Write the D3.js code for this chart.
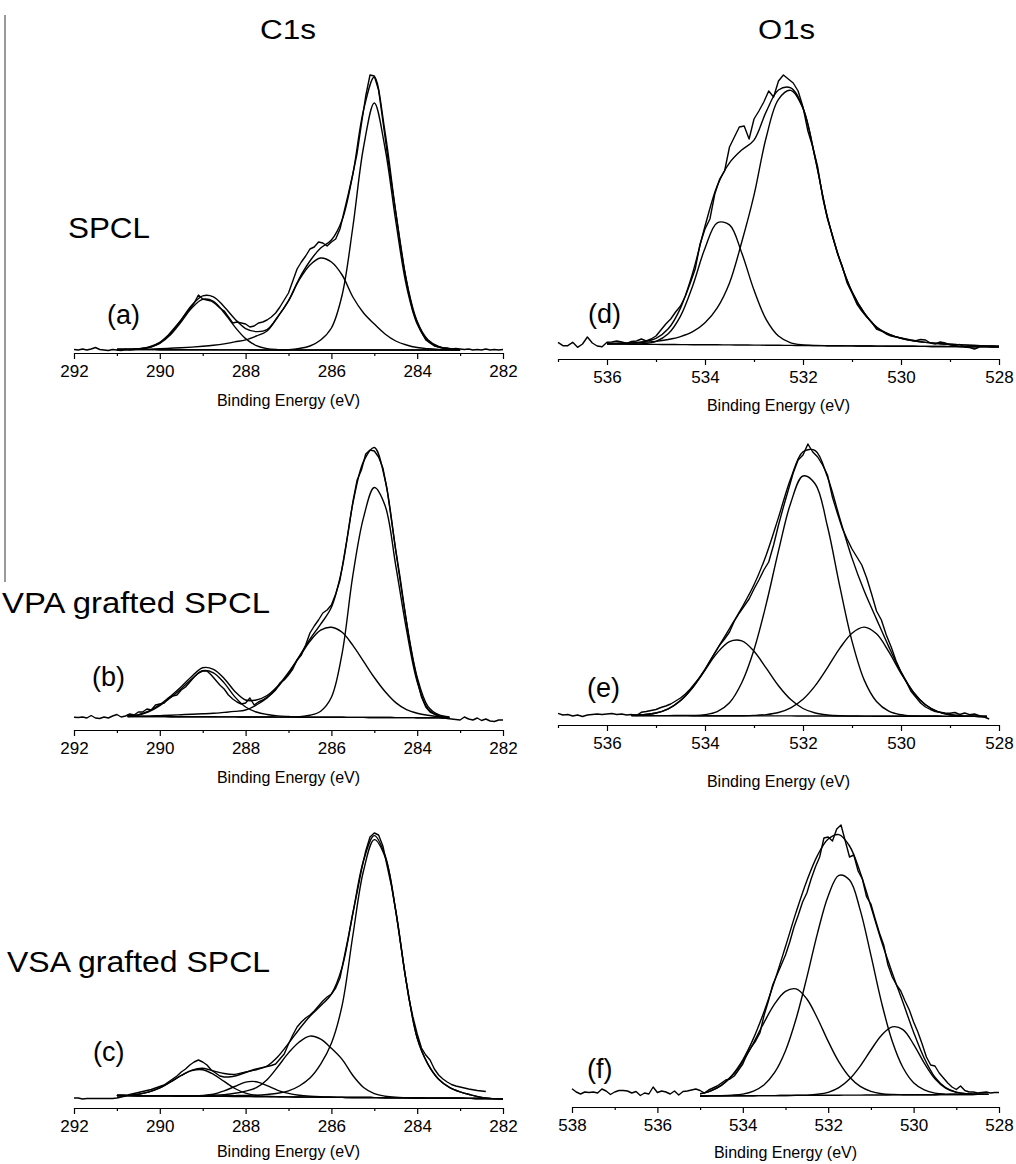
<!DOCTYPE html>
<html>
<head>
<meta charset="utf-8">
<script src="https://cdn.jsdelivr.net/npm/d3@7"></script>
<style>
  body { margin: 0; background: #fff; }
  svg { display: block; font-family: 'Liberation Sans', Arial, sans-serif; }
  .curve { fill: none; stroke: #000; stroke-width: 1.4; stroke-linejoin: round; }
  .axis path, .axis line { stroke: #000; stroke-width: 1.2; }
  .axis text { font-size: 17px; fill: #000; font-family: 'Liberation Sans', Arial, sans-serif; }
</style>
</head>
<body>
<svg id="chart" width="1016" height="1164"></svg>
<script>
// tick values (binding energy, eV)
const ticksC1s = [292, 291, 290, 289, 288, 287, 286, 285, 284, 283, 282];
const ticksO1s = [537, 536, 535, 534, 533, 532, 531, 530, 529, 528];
const ticksO1sF = [538, 537, 536, 535, 534, 533, 532, 531, 530, 529, 528];

// first energy of each measured spectrum and of each fit grid (a..f)
const rawStart = [292, 292, 292, 537, 537, 538];
const rawStep = 0.1;
const fitStart = [291, 290.75, 291, 536, 535.5, 535];
const fitStep = 0.25;

// measured spectra (a.u.)
const rawA = [3.5, 3, 4, 3, 4, 5.5, 3.5, 3, 2.5, 3.5,
  3, 2.5, 3.5, 3, 3.5, 4, 4.5, 5, 6, 8,
  10, 14, 18, 23, 28, 33, 39, 44, 50, 58,
  54, 53, 52, 49, 45, 42, 36, 30, 31, 30,
  29, 26, 27, 30, 31, 33, 36, 40, 46, 53,
  60, 72, 84, 91, 97, 104, 106, 111, 110, 107,
  111, 114, 124, 142, 160, 179, 200, 229, 257, 278,
  277, 263, 232, 200, 170, 141, 112, 84, 61, 42,
  31, 21, 13, 10, 7, 6, 5, 5, 4, 4.5,
  4, 3.5, 4, 3, 3.5, 3, 4, 3, 3.5, 3, 3.5];
const rawB = [12.7, 12.5, 13, 12, 14.5, 12, 11.5, 13, 12, 14,
  15.5, 13, 14, 16, 15, 18, 18, 21, 20, 25,
  26, 27, 32, 34, 35, 40, 43, 48, 53, 57,
  59, 59, 55, 50, 45, 41, 35, 31, 28, 26,
  27, 32, 25, 28, 30, 33, 36, 40, 47, 50,
  55, 61, 70, 75, 85, 97, 104, 110, 117, 120,
  125, 136, 150, 175, 200, 228, 250, 260, 276, 280,
  279, 273, 262, 240, 210, 180, 153, 123, 94, 70,
  50, 33, 23, 18, 16, 14, 12.5, 11.5, 11, 10.5,
  10, 13, 11, 10, 12, 9.5, 11, 9, 8.5, 10, 10];
const rawC = [10, 10, 9, 9.5, 9.5, 9.5, 9.5, 9.5, 9.5, 9.5,
  10, 11, 12, 13.5, 14.5, 15.5, 16.5, 17.5, 18.5, 20,
  21.5, 23, 26, 29, 32, 36, 39, 43, 46, 48,
  46, 43, 38, 35, 32, 31, 31, 31.5, 32.5, 34,
  35.5, 37, 38.5, 39.5, 40.5, 41.5, 42.5, 44, 49, 54,
  64, 73, 81, 86, 90, 93, 97, 102, 107, 111,
  114, 120, 130, 151, 172, 195, 216, 238, 257, 271,
  275, 273, 262, 242, 222, 197, 168, 138, 111, 91,
  74, 60, 53, 48, 39, 33, 29, 26, 23.5, 22,
  21, 20, 19, 18.3, 17.5, 17, 16.5];
const rawD = [16.7, 13.3, 13.3, 16.7, 11.7, 15, 22, 16, 13, 12.3,
  16.7, 17, 18, 17, 15.7, 17.5, 18, 20, 18, 20,
  23, 29, 35, 40, 47, 53, 63, 76, 90, 115,
  130, 140, 165, 180, 188, 212, 222, 232, 233, 220,
  240, 248, 257, 268, 262, 278, 284, 280, 276, 268,
  252, 228, 212, 192, 162, 140, 124, 106, 93, 76,
  66, 55, 48, 42, 37, 30, 28, 25, 23, 22,
  21, 20, 19, 18.3, 19.5, 19, 16, 15, 17, 16,
  14, 13.5, 14.5, 12, 11.5, 10, 12];
const rawE = [11.7, 10, 10.5, 9, 10, 8.5, 10, 10.5, 11, 10.5,
  11, 11.5, 10.5, 11, 10, 10.5, 9.5, 12.7, 13.5, 14.5,
  15.5, 17.5, 19, 21, 24, 27, 31, 36, 42, 48,
  55, 64, 72, 80, 86, 93, 104, 112, 119, 126,
  136, 145, 155, 163, 180, 200, 218, 235, 252, 265,
  270, 281, 273, 268, 260, 250, 228, 212, 197, 186,
  176, 168, 160, 147, 131, 114, 105, 90, 78, 64,
  53, 44, 34, 28, 22, 18, 15.5, 13.5, 12.7, 12,
  11.7, 12.5, 10.5, 12, 10.3, 11, 9.3, 8, 6];
const rawF = [18.3, 15, 13, 15, 14.5, 15, 14, 18, 16, 12.5,
  15, 16.5, 16.5, 16, 14, 15.5, 11.5, 14, 13, 20,
  14.5, 16, 15, 13, 16, 12, 15.5, 16, 17, 18,
  16.5, 14, 17, 19, 21, 24, 27, 28, 31, 37,
  43, 53, 60, 66, 74, 92, 106, 122, 132, 142,
  152, 165, 180, 192, 205, 214, 228, 240, 250, 269,
  270, 266, 278, 282, 266, 250, 252, 236, 228, 210,
  203, 188, 174, 162, 142, 130, 122, 116, 106, 97,
  85, 75, 63, 50, 42, 41, 34, 29, 24, 20,
  17.5, 21, 16.5, 15, 15, 14, 14.5, 15, 14, 14.5, 14.5];

// backgrounds on the fit grid
const bgA = [3.5, 3.5, 3.4, 3.4, 3.3, 3.3, 3.3, 3.2, 3.2, 3.2, 3.1, 3.1, 3.1,
  3, 3, 3, 3, 3, 3, 3, 3, 3, 3, 3, 3, 3, 3, 3, 3, 3, 3, 3, 3];
const bgB = [13.5, 13.5, 13.4, 13.4, 13.3, 13.3, 13.3, 13.2, 13.2, 13.1,
  13.1, 13, 13, 13, 12.9, 12.9, 12.8, 12.8, 12.8, 12.7,
  12.7, 12.6, 12.6, 12.5, 12.5, 12.4, 12.4, 12.3, 12.2, 12.1, 12];
const bgC = [12.5, 12.4, 12.3, 12.2, 12.1, 12.1, 12, 11.9, 11.8, 11.7,
  11.6, 11.5, 11.4, 11.3, 11.3, 11.2, 11.1, 11, 10.9, 10.8,
  10.7, 10.6, 10.5, 10.5, 10.4, 10.3, 10.2, 10.1, 10, 9.9,
  9.8, 9.7, 9.7, 9.6, 9.5, 9.4, 9.3];
const bgD = [15, 14.9, 14.8, 14.7, 14.6, 14.5, 14.4, 14.3, 14.3, 14.2,
  14.1, 14, 13.9, 13.8, 13.7, 13.6, 13.5, 13.4, 13.3, 13.2,
  13.1, 13, 12.9, 12.8, 12.7, 12.7, 12.6, 12.5, 12.4, 12.3,
  12.2, 12.1, 12];
const bgE = [9.5, 9.5, 9.4, 9.4, 9.4, 9.3, 9.3, 9.3, 9.2, 9.2,
  9.2, 9.1, 9.1, 9.1, 9, 9, 9, 8.9, 8.9, 8.9,
  8.8, 8.8, 8.8, 8.7, 8.7, 8.7, 8.6, 8.6, 8.6, 8.5];
const bgF = [11, 11.1, 11.1, 11.2, 11.2, 11.3, 11.4, 11.4, 11.5, 11.6,
  11.6, 11.7, 11.7, 11.8, 11.9, 11.9, 12, 12, 12.1, 12.2,
  12.2, 12.3, 12.3, 12.4, 12.5, 12.5, 12.6, 12.6];

// fitted components above background, on the fit grid
const compsA = [
  [0, 0.1, 0.6, 2.2, 6.4, 15, 28, 42, 50.4, 48.5, 37.2, 23, 11.3, 4.4, 1.4, 0.4, 0.1,
    0, 0, 0, 0, 0, 0, 0, 0, 0, 0, 0, 0, 0, 0, 0, 0],
  [0, 0.1, 0.3, 0.5, 1, 1.5, 2, 2.7, 3.5, 4.5, 6, 8, 10, 14, 19, 33, 49, 70, 85, 92,
    88, 75, 53, 37, 26, 16, 9, 5, 2.5, 1.3, 0.6, 0.2, 0],
  [0, 0, 0, 0, 0, 0, 0, 0, 0, 0, 0, 0, 0, 0, 0, 0,
    0.3, 1.5, 4, 10, 22, 55, 123, 203, 247, 202, 129, 64, 26, 9, 3, 1, 0.3]
];
const compsB = [
  [0.5, 1.5, 5, 11, 19, 28, 38, 46, 44, 34, 20, 10, 5, 2.5, 1.2, 0.6, 0.3, 0.1, 0,
    0, 0, 0, 0, 0, 0, 0, 0, 0, 0, 0, 0],
  [0, 0.3, 0.6, 1, 1.5, 2, 2.5, 3, 3.5, 4.5, 5.5, 7, 12, 19, 30,
    44, 60, 76, 87, 90, 85, 72, 56, 40, 26, 15, 8, 4.5, 2.5, 1.2, 0.5],
  [0, 0, 0, 0, 0, 0, 0, 0, 0, 0, 0, 0, 0, 0, 0, 0,
    0.5, 2, 6, 20, 64, 142, 200, 230, 212, 152, 88, 36, 9, 2, 0.5]
];
const compsC = [
  [0, 0.2, 1.5, 4, 8, 14, 20.5, 25.5, 26.5, 22, 15, 8, 3.5, 1.3, 0.4, 0.1,
    0, 0, 0, 0, 0, 0, 0, 0, 0, 0, 0, 0, 0, 0, 0, 0, 0, 0, 0, 0, 0],
  [0, 0, 0, 0, 0, 0, 0.1, 0.3, 0.7, 2, 5.5, 10, 14.5, 15, 11, 6.5, 3.5, 1.8, 0.9,
    0.4, 0.2, 0.1, 0, 0, 0, 0, 0, 0, 0, 0, 0, 0, 0, 0, 0, 0, 0],
  [0, 0, 0, 0, 0, 0, 0, 0.2, 0.5, 1, 1.8, 3.2, 5.5, 9, 17, 30, 44, 55, 61,
    58, 49, 38, 22, 10, 4, 1.5, 0.5, 0.2, 0, 0, 0, 0, 0, 0, 0, 0, 0],
  [0, 0, 0, 0, 0, 0, 0, 0, 0.2, 0.4, 0.6, 0.9, 1.2, 1.6, 2.3, 3.5, 6, 11,
    19, 33, 54, 92, 162, 227, 258, 241, 187, 115, 60, 34, 19, 11, 6.5, 3.5, 1, 0, 0]
];
const compsD = [
  [0, 0, 0.1, 0.7, 3.1, 10.7, 28.5, 59, 96.5, 122, 120, 92, 55, 25.6, 9.3, 2.6, 0.6, 0.1,
    0, 0, 0, 0, 0, 0, 0, 0, 0, 0, 0, 0, 0, 0, 0],
  [0.5, 0.8, 1.2, 2, 3, 5, 8, 13, 22, 37, 62, 103, 150, 208, 246, 255, 237, 187, 128, 86,
    54, 33, 19, 12, 8, 5.5, 4, 3, 2.3, 1.8, 1.3, 1, 0.7]
];
const compsE = [
  [0.25, 0.9, 2.6, 6.8, 15, 28.2, 45.6, 62.8, 74.2, 74.9, 64.6, 47.7, 30.1, 16.3, 7.5,
    3, 1, 0.3, 0.1, 0, 0, 0, 0, 0, 0, 0, 0, 0, 0, 0],
  [0, 0, 0, 0, 0.1, 0.3, 1, 4, 13, 33, 66, 112, 165, 213, 240,
    232, 189.5, 130, 75, 36, 14.7, 5, 1.4, 0.3, 0.1, 0, 0, 0, 0, 0],
  [0, 0, 0, 0, 0, 0, 0, 0, 0, 0.1, 0.4, 1.3, 3.4, 8.1, 16.7,
    30.4, 48.4, 67.7, 82.9, 89, 82.4, 64.6, 42.9, 24.1, 11.5, 4.6, 1.6, 0.5, 0.1, 0]
];
const compsF = [
  [2.2, 5.1, 10.6, 20, 34.2, 52.7, 73.3, 91.9, 104.2, 106.5, 96.4, 76.8, 53.9, 33.3,
    18.1, 8.7, 3.7, 1.3, 0.4, 0.1, 0, 0, 0, 0, 0, 0, 0, 0],
  [0, 0, 0.2, 0.6, 1.7, 4.6, 10.9, 23.4, 44.8, 76.9, 118, 162.2, 199.4, 219.8,
    215, 185, 139.8, 92.4, 53.6, 27.3, 12.1, 4.8, 1.6, 0.5, 0.2, 0.1, 0, 0],
  [0, 0, 0, 0, 0, 0, 0, 0, 0, 0.1, 0.3, 1, 3, 7.5, 16, 29, 45, 59.8, 68,
    65.2, 50.5, 31.6, 15.9, 6.5, 2.1, 0.6, 0.1, 0]
];

const panelLabels = ['(a)', '(b)', '(c)', '(d)', '(e)', '(f)'];
const sampleLabels = ['SPCL', 'VPA grafted SPCL', 'VSA grafted SPCL'];
const coreLevels = ['C1s', 'O1s'];

const raws = [rawA, rawB, rawC, rawD, rawE, rawF];
const bgs = [bgA, bgB, bgC, bgD, bgE, bgF];
const comps = [compsA, compsB, compsC, compsD, compsE, compsF];
const domains = [[292, 282], [292, 282], [292, 282], [537, 528], [537, 528], [538, 528]];
const ticks = [ticksC1s, ticksC1s, ticksC1s, ticksO1s, ticksO1s, ticksO1sF];

// page layout
const layout = [
  { left: 74, right: 503, axisY: 353, titleY: 406, labelX: 107, labelY: 324 },
  { left: 74, right: 503, axisY: 730, titleY: 783, labelX: 92, labelY: 686 },
  { left: 74, right: 503, axisY: 1108, titleY: 1157, labelX: 93, labelY: 1061 },
  { left: 558, right: 999, axisY: 359, titleY: 411, labelX: 588, labelY: 323 },
  { left: 558, right: 999, axisY: 725, titleY: 787, labelX: 587, labelY: 697 },
  { left: 572, right: 999, axisY: 1107, titleY: 1158, labelX: 587, labelY: 1078 }
];

const svg = d3.select('#chart');

// grey rule on the left edge
svg.append('line')
  .attr('x1', 5).attr('x2', 5)
  .attr('y1', 15).attr('y2', 582)
  .attr('stroke', '#999')
  .attr('stroke-width', 2);

svg.append('text').attr('x', 260).attr('y', 39)
  .attr('font-size', 27).attr('textLength', 56).attr('lengthAdjust', 'spacingAndGlyphs')
  .text(coreLevels[0]);
svg.append('text').attr('x', 758).attr('y', 39)
  .attr('font-size', 27).attr('textLength', 57).attr('lengthAdjust', 'spacingAndGlyphs')
  .text(coreLevels[1]);

[[68, 238, 82], [2, 613, 268], [7, 972, 263]].forEach((pos, i) => {
  svg.append('text')
    .attr('x', pos[0]).attr('y', pos[1])
    .attr('font-size', 30)
    .attr('textLength', pos[2]).attr('lengthAdjust', 'spacingAndGlyphs')
    .text(sampleLabels[i]);
});

layout.forEach((L, i) => {
  let x = d3.scaleLinear().domain(domains[i]).range([L.left, L.right]);
  let y = d3.scaleLinear().domain([0, 300]).range([L.axisY, L.axisY - 300]);
  let g = svg.append('g');

  let line = d3.line().x(d => x(d[0])).y(d => y(d[1]));
  let smooth = d3.line().x(d => x(d[0])).y(d => y(d[1])).curve(d3.curveCatmullRom.alpha(0.5));

  let bg = bgs[i];
  let gridE = bg.map((v, j) => fitStart[i] - j * fitStep);

  // background
  g.append('path').attr('class', 'curve')
    .attr('d', smooth(gridE.map((e, j) => [e, bg[j]])));

  // components
  comps[i].forEach(c => {
    g.append('path').attr('class', 'curve')
      .attr('d', smooth(gridE.map((e, j) => [e, bg[j] + c[j]])));
  });

  // fit envelope = background + all components
  g.append('path').attr('class', 'curve')
    .attr('d', smooth(gridE.map((e, j) => [e, bg[j] + d3.sum(comps[i], c => c[j])])));

  // measured spectrum
  g.append('path').attr('class', 'curve')
    .attr('d', line(raws[i].map((v, j) => [rawStart[i] - j * rawStep, v])));

  let major = ticks[i].filter(t => t % 2 === 0);
  let minor = ticks[i].filter(t => t % 2 !== 0);

  g.append('g')
    .attr('class', 'axis')
    .attr('transform', 'translate(0,' + L.axisY + ')')
    .call(d3.axisBottom(x).tickValues(major).tickSize(6).tickSizeOuter(0)
      .tickPadding(6).tickFormat(d3.format('d')));

  g.append('g')
    .attr('class', 'axis')
    .attr('transform', 'translate(0,' + L.axisY + ')')
    .call(d3.axisBottom(x).tickValues(minor).tickSize(3).tickFormat(''))
    .select('.domain').remove();

  g.append('text')
    .attr('x', (L.left + L.right) / 2)
    .attr('y', L.titleY)
    .attr('text-anchor', 'middle')
    .attr('font-size', 16)
    .text('Binding Energy (eV)');

  g.append('text')
    .attr('x', L.labelX)
    .attr('y', L.labelY)
    .attr('font-size', 27)
    .text(panelLabels[i]);
});
</script>
</body>
</html>
